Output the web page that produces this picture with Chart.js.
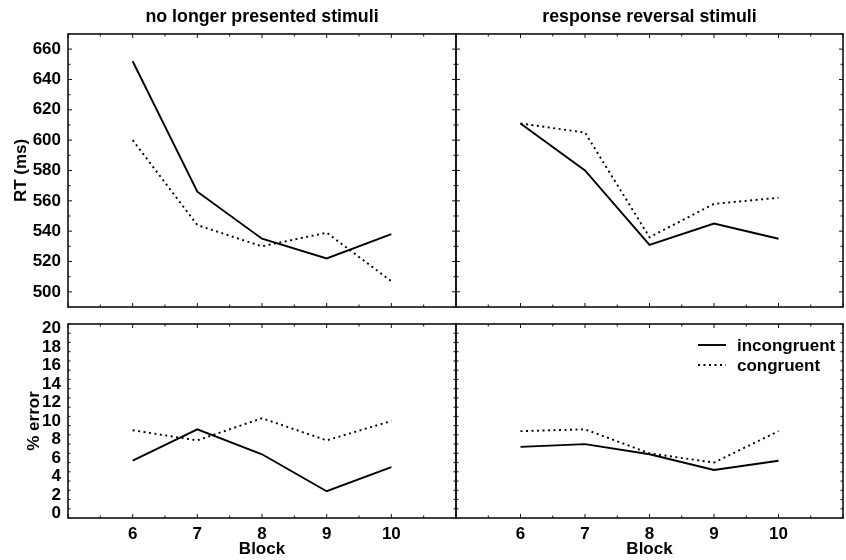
<!DOCTYPE html>
<html>
<head>
<meta charset="utf-8">
<script src="https://cdn.jsdelivr.net/npm/chart.js@4"></script>
<style>
  body { margin: 0; background: #fff; }
  #wrap { position: relative; width: 846px; height: 560px; background: #fff; }
  #wrap div { position: absolute; }
</style>
</head>
<body>
<div id="wrap">
  <div style="left:0;top:0;width:458px;height:310px"><canvas id="rtLeft"></canvas></div>
  <div style="left:454px;top:0;width:392px;height:310px"><canvas id="rtRight"></canvas></div>
  <div style="left:0;top:312px;width:458px;height:248px"><canvas id="errLeft"></canvas></div>
  <div style="left:454px;top:312px;width:392px;height:248px"><canvas id="errRight"></canvas></div>
</div>
<script>
const blocks = [6, 7, 8, 9, 10];
const seriesNames = ["incongruent", "congruent"];
const panelTitles = ["no longer presented stimuli", "response reversal stimuli"];

// RT (ms)
const rtNoLongerIncong = [652, 566, 535, 522, 538];
const rtNoLongerCong = [600, 544, 530, 539, 507];
const rtReversalIncong = [611, 580, 531, 545, 535];
const rtReversalCong = [611, 605, 536, 558, 562];

// % error
const errNoLongerIncong = [5.7, 9.1, 6.4, 2.4, 5.0];
const errNoLongerCong = [9.0, 7.9, 10.3, 7.9, 10.0];
const errReversalIncong = [7.2, 7.5, 6.4, 4.7, 5.7];
const errReversalCong = [8.9, 9.1, 6.5, 5.5, 8.9];

const rtTicks = [500, 520, 540, 560, 580, 600, 620, 640, 660];
const errTicks = [0, 2, 4, 6, 8, 10, 12, 14, 16, 18, 20];

const FONT = "'Liberation Sans', Arial, Helvetica, sans-serif";
const LABEL_SIZE = 17;

// frame round the plot area with small inward ticks on every side
const framePlugin = {
  id: "frame",
  afterDraw(chart, args, opts) {
    const { ctx, chartArea: a, scales } = chart;
    const xs = scales.x, ys = scales.y;
    ctx.save();
    ctx.strokeStyle = "#111";
    ctx.lineWidth = 1;
    ctx.beginPath();
    for (let v = xs.min; v <= xs.max + 1e-9; v += opts.xMinor) {
      const px = xs.getPixelForValue(v);
      const len = Math.abs(v - Math.round(v)) < 1e-9 ? 4 : 2.5;
      ctx.moveTo(px, a.top); ctx.lineTo(px, a.top + len);
      ctx.moveTo(px, a.bottom); ctx.lineTo(px, a.bottom - len);
    }
    for (let v = ys.min; v <= ys.max + 1e-9; v += opts.yMinor) {
      const py = ys.getPixelForValue(v);
      const len = opts.yMajors.includes(Math.round(v * 100) / 100) ? 4 : 2.5;
      ctx.moveTo(a.left, py); ctx.lineTo(a.left + len, py);
      ctx.moveTo(a.right, py); ctx.lineTo(a.right - len, py);
    }
    ctx.stroke();
    ctx.lineWidth = 1.6;
    ctx.strokeRect(a.left, a.top, a.right - a.left, a.bottom - a.top);
    ctx.restore();
  }
};

// legend drawn inside the bottom right panel
const legendPlugin = {
  id: "insideLegend",
  afterDraw(chart, args, opts) {
    if (!opts.show) return;
    const { ctx, chartArea: a } = chart;
    ctx.save();
    ctx.font = "bold " + LABEL_SIZE + "px " + FONT;
    ctx.textBaseline = "middle";
    ctx.fillStyle = "#000";
    chart.data.datasets.forEach((ds, i) => {
      const y = a.top + 21 + i * 20;
      ctx.strokeStyle = ds.borderColor;
      ctx.lineWidth = ds.borderWidth;
      ctx.setLineDash(ds.borderDash || []);
      ctx.beginPath();
      ctx.moveTo(a.right - 145, y);
      ctx.lineTo(a.right - 117, y);
      ctx.stroke();
      ctx.setLineDash([]);
      ctx.fillText(ds.label, a.right - 106, y + 1);
    });
    ctx.restore();
  }
};

function makeSets(incong, cong) {
  return [
    { label: seriesNames[0], data: blocks.map((b, i) => ({ x: b, y: incong[i] })),
      borderColor: "#000", borderWidth: 1.9, pointRadius: 0, tension: 0 },
    { label: seriesNames[1], data: blocks.map((b, i) => ({ x: b, y: cong[i] })),
      borderColor: "#000", borderWidth: 1.9, borderDash: [2, 3.5], pointRadius: 0, tension: 0 }
  ];
}

function makeChart(id, cfg) {
  const showY = cfg.yTitle !== undefined;
  const showX = !!cfg.showX;
  const labelFont = { family: FONT, size: LABEL_SIZE, weight: "bold" };
  return new Chart(document.getElementById(id), {
    type: "line",
    data: { datasets: makeSets(cfg.incong, cfg.cong) },
    options: {
      responsive: true,
      maintainAspectRatio: false,
      animation: false,
      events: [],
      layout: { padding: cfg.padding },
      plugins: {
        legend: { display: false },
        tooltip: { enabled: false },
        title: {
          display: !!cfg.title,
          text: cfg.title,
          fullSize: false,
          color: "#000",
          font: { family: FONT, size: 17.8, weight: "bold" },
          padding: { top: 6, bottom: 6.6 }
        },
        frame: { xMinor: 0.5, yMinor: cfg.yMinor, yMajors: cfg.yTicks },
        insideLegend: { show: !!cfg.legend }
      },
      scales: {
        x: {
          type: "linear",
          min: 5, max: 11,
          display: showX,
          grid: { display: false, drawTicks: false },
          border: { display: false },
          afterBuildTicks: s => { s.ticks = blocks.map(v => ({ value: v })); },
          afterFit: s => {
            if (!showX) return;
            s.height = 42; s.paddingLeft = 0; s.paddingRight = 0;
          },
          ticks: { color: "#000", padding: 6.5, autoSkip: false, maxRotation: 0, font: labelFont },
          title: {
            display: true, text: "Block", color: "#000",
            padding: { top: 0, bottom: 0 },
            font: labelFont
          }
        },
        y: {
          type: "linear",
          min: cfg.yMin, max: cfg.yMax,
          display: showY,
          grid: { display: false, drawTicks: false },
          border: { display: false },
          afterBuildTicks: s => { s.ticks = cfg.yTicks.map(v => ({ value: v })); },
          afterFit: s => {
            if (!showY) return;
            s.width = 68; s.paddingTop = 0; s.paddingBottom = 0;
          },
          ticks: { color: "#000", padding: 7, autoSkip: false, font: labelFont },
          title: {
            display: showY, text: cfg.yTitle, color: "#000",
            padding: { top: cfg.yTitlePad, bottom: 0 },
            font: labelFont
          }
        }
      }
    },
    plugins: [framePlugin, legendPlugin]
  });
}

makeChart("rtLeft", {
  incong: rtNoLongerIncong, cong: rtNoLongerCong, title: panelTitles[0],
  yMin: 490, yMax: 670, yTicks: rtTicks, yMinor: 10,
  yTitle: "RT (ms)", yTitlePad: 11,
  padding: { top: 0, left: 0, right: 2, bottom: 3 }
});
makeChart("rtRight", {
  incong: rtReversalIncong, cong: rtReversalCong, title: panelTitles[1],
  yMin: 490, yMax: 670, yTicks: rtTicks, yMinor: 10,
  padding: { top: 0, left: 2, right: 3, bottom: 3 }
});
makeChart("errLeft", {
  incong: errNoLongerIncong, cong: errNoLongerCong, showX: true,
  yMin: -0.5, yMax: 20.5, yTicks: errTicks, yMinor: 1,
  yTitle: "% error", yTitlePad: 24.5,
  padding: { top: 12, left: 0, right: 2, bottom: 0 }
});
makeChart("errRight", {
  incong: errReversalIncong, cong: errReversalCong, showX: true, legend: true,
  yMin: -0.5, yMax: 20.5, yTicks: errTicks, yMinor: 1,
  padding: { top: 12, left: 2, right: 3, bottom: 0 }
});
</script>
</body>
</html>
